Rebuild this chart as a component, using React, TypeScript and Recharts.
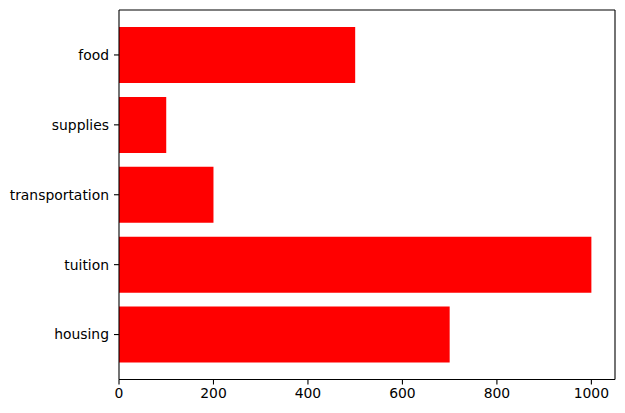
import { BarChart, Bar, XAxis, YAxis } from "recharts";

const categories = ["food", "supplies", "transportation", "tuition", "housing"];
const amounts = [500, 100, 200, 1000, 700];
const xTicks = [0, 200, 400, 600, 800, 1000];

const data = categories.map((name, i) => ({ name, amount: amounts[i] }));

const tickFont = { fontFamily: "DejaVu Sans", fontSize: 13.9, fill: "#000" };
const spine = { stroke: "#000", strokeWidth: 1.1 };

export default function App() {
    return (
        <div style={{ position: "absolute", left: 0, top: 0, width: 625, height: 413, background: "#fff" }}>
            <BarChart
                width={625}
                height={413}
                data={data}
                layout="vertical"
                margin={{ top: 9, right: 9, bottom: 0, left: 0 }}
                barCategoryGap="10%"
            >
                <XAxis
                    xAxisId="main"
                    type="number"
                    domain={[0, 1050]}
                    ticks={xTicks}
                    allowDataOverflow
                    height={33.5}
                    tickSize={5}
                    tickMargin={4}
                    tick={tickFont}
                    axisLine={spine}
                    tickLine={spine}
                />
                {/* top spine */}
                <XAxis
                    xAxisId="top"
                    orientation="top"
                    type="number"
                    domain={[0, 1050]}
                    height={1}
                    tick={false}
                    tickLine={false}
                    axisLine={spine}
                />
                <YAxis
                    yAxisId="main"
                    type="category"
                    dataKey="name"
                    width={119}
                    padding={{ top: 10, bottom: 10 }}
                    tickSize={5}
                    tickMargin={5}
                    tick={tickFont}
                    axisLine={spine}
                    tickLine={spine}
                />
                {/* right spine */}
                <YAxis
                    yAxisId="right"
                    orientation="right"
                    type="category"
                    dataKey="name"
                    width={1}
                    tick={false}
                    tickLine={false}
                    axisLine={spine}
                />
                <Bar
                    xAxisId="main"
                    yAxisId="main"
                    dataKey="amount"
                    fill="#ff0000"
                    isAnimationActive={false}
                />
            </BarChart>
        </div>
    );
}
